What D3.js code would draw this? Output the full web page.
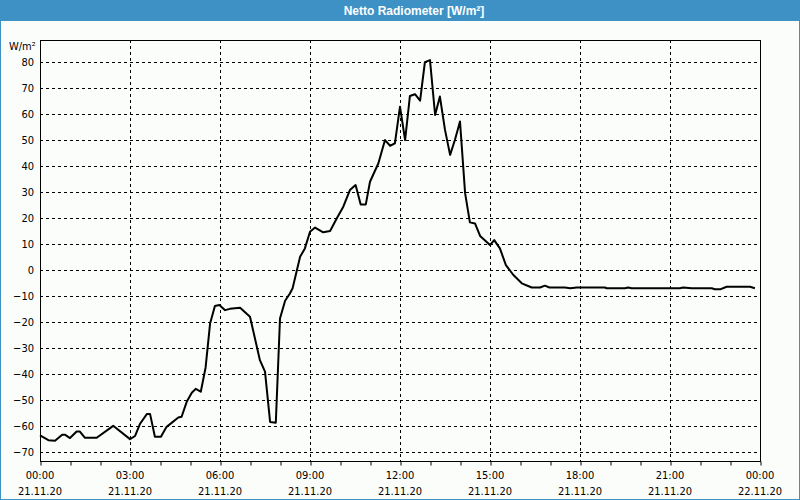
<!DOCTYPE html>
<html>
<head>
<meta charset="utf-8">
<script src="https://cdn.jsdelivr.net/npm/d3@7"></script>
<style>
  html, body { margin: 0; padding: 0; background: #ffffff; }
  svg { display: block; }
</style>
</head>
<body>
<svg id="chart" width="800" height="500"></svg>
<script>
const title = "Netto Radiometer [W/m²]";
const unitLabel = "W/m²";
// hours since 21.11.20 00:00
const hours = [0.0,0.28,0.5,0.74,0.83,1.0,1.22,1.33,1.5,1.89,2.44,3.0,3.17,3.33,3.56,3.67,3.83,4.03,4.22,4.61,4.72,4.89,5.06,5.19,5.36,5.52,5.67,5.83,5.98,6.17,6.33,6.67,7.0,7.33,7.5,7.67,7.86,8.0,8.17,8.33,8.42,8.67,8.83,9.0,9.17,9.44,9.67,9.89,10.11,10.33,10.52,10.69,10.86,11.0,11.28,11.5,11.67,11.83,12.0,12.17,12.33,12.5,12.67,12.83,13.0,13.17,13.33,13.5,13.67,13.83,14.0,14.17,14.33,14.5,14.67,15.0,15.14,15.33,15.53,15.78,16.06,16.39,16.67,16.83,16.98,17.5,17.67,17.89,18.83,18.89,19.5,19.61,19.72,21.33,21.44,21.72,22.39,22.5,22.67,22.89,23.67,23.83];
const values = [-63.5,-65.3,-65.5,-63.2,-63.2,-64.5,-62,-62,-64.4,-64.4,-59.8,-64.9,-63.7,-59.1,-55.3,-55.3,-64,-64,-60.2,-56.6,-56.3,-50.6,-47.1,-45.6,-46.7,-37.4,-20.5,-13.8,-13.4,-15.4,-14.9,-14.5,-17.9,-34.6,-39.0,-58.3,-58.6,-18.6,-11.8,-9.0,-7.0,5.1,8.3,14.7,16.3,14.5,15.0,19.8,24.3,30.7,32.6,25.2,25.2,33.9,41.0,49.9,47.7,48.6,62.7,49.9,66.8,67.5,65.0,79.8,80.6,59.5,66.6,53.8,44.2,49.9,57.0,29.5,18.3,17.9,13.1,9.6,11.5,8.3,1.9,-1.9,-5.1,-6.7,-6.7,-6.0,-6.7,-6.7,-7.0,-6.7,-6.7,-7.0,-7.0,-6.7,-7.0,-7.0,-6.7,-7.0,-7.0,-7.4,-7.4,-6.4,-6.4,-7.0];
const yTicks = [80,70,60,50,40,30,20,10,0,-10,-20,-30,-40,-50,-60,-70];
const xTickHours = [0,3,6,9,12,15,18,21,24];
const xTimeLabels = ["00:00","03:00","06:00","09:00","12:00","15:00","18:00","21:00","00:00"];
const xDateLabels = ["21.11.20","21.11.20","21.11.20","21.11.20","21.11.20","21.11.20","21.11.20","21.11.20","22.11.20"];
const minorHours = d3.range(0, 25, 1);

const W = 800, H = 500;
const blue = "#3d91c4";
const font = "Tahoma, 'DejaVu Sans Condensed', 'Liberation Sans', sans-serif";
const svg = d3.select("#chart");

// background + border
svg.append("rect").attr("x",0).attr("y",0).attr("width",W).attr("height",H).attr("fill","#fbfdfb");
svg.append("rect").attr("x",0.5).attr("y",0.5).attr("width",W-1).attr("height",H-1)
  .attr("fill","none").attr("stroke",blue).attr("stroke-width",1);
svg.append("rect").attr("x",0).attr("y",0).attr("width",W).attr("height",21).attr("fill",blue);
svg.append("text").attr("x",W/2 + 14).attr("y",14.5).attr("text-anchor","middle")
  .attr("fill","#ffffff").attr("font-family","'Liberation Sans', Arial, sans-serif")
  .attr("font-weight","bold").attr("font-size","12px").text(title);

const L = 40, R = 760, T = 40, B = 461;
const x = d3.scaleLinear().domain([0,24]).range([L,R]);
const y = d3.scaleLinear().domain([-73.3, 88.3]).range([B,T]);

// grid
const grid = svg.append("g").attr("stroke","#000").attr("stroke-width",1).attr("stroke-dasharray","3,3");
yTicks.forEach(v => {
  const yy = Math.round(y(v)) + 0.5;
  grid.append("line").attr("x1",L).attr("x2",R).attr("y1",yy).attr("y2",yy);
});
xTickHours.slice(1,-1).forEach(h => {
  const xx = Math.round(x(h)) + 0.5;
  grid.append("line").attr("x1",xx).attr("x2",xx).attr("y1",T).attr("y2",B);
});

// frame
svg.append("rect").attr("x",L+0.5).attr("y",T+0.5).attr("width",R-L).attr("height",B-T)
  .attr("fill","none").attr("stroke","#000").attr("stroke-width",1);

// y axis labels
const yAxis = d3.axisLeft(y).tickValues(yTicks).tickSize(0).tickPadding(6).tickFormat(d3.format("d"));
const gy = svg.append("g").attr("transform",`translate(${L},0)`).call(yAxis);
gy.select(".domain").remove();
gy.selectAll("text").attr("font-family",font).attr("font-size","11px").attr("fill","#000");

svg.append("text").attr("x",9).attr("y",50).attr("font-family",font).attr("font-size","11px")
  .attr("fill","#000").text(unitLabel);

// x axis minor ticks
const xAxis = d3.axisBottom(x).tickValues(minorHours).tickSize(4).tickFormat("");
const gx = svg.append("g").attr("transform",`translate(0,${B+0.5})`).call(xAxis);
gx.select(".domain").remove();
gx.selectAll("line").attr("stroke","#000").attr("transform","translate(0.5,0)");

xTickHours.forEach((h,i) => {
  svg.append("text").attr("x",x(h)).attr("y",479).attr("text-anchor","middle")
    .attr("font-family",font).attr("font-size","11px").attr("fill","#000").text(xTimeLabels[i]);
  svg.append("text").attr("x",x(h)).attr("y",495).attr("text-anchor","middle")
    .attr("font-family",font).attr("font-size","11px").attr("fill","#000").text(xDateLabels[i]);
});

// line
const data = hours.map((h,i) => ({h, v: values[i]}));
const line = d3.line().x(d => x(d.h)).y(d => y(d.v));
svg.append("path").datum(data).attr("d", line).attr("fill","none")
  .attr("stroke","#000").attr("stroke-width",2).attr("stroke-linejoin","round");
</script>
</body>
</html>
